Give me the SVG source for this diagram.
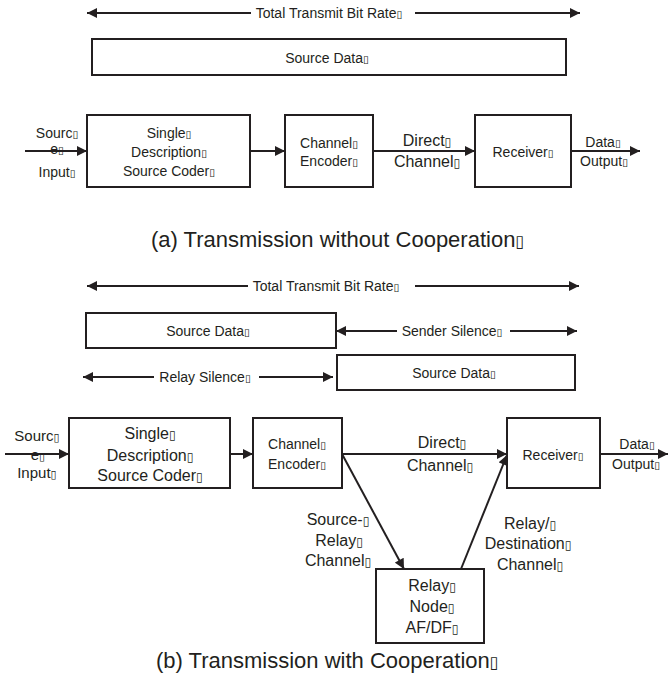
<svg xmlns="http://www.w3.org/2000/svg" width="668" height="693" viewBox="0 0 668 693">
<style>
text{font-family:"Liberation Sans",Arial,sans-serif;fill:#231f20;text-anchor:middle}
.s14{font-size:14px}.s16{font-size:16px}.s15{font-size:15px}
.cap{font-size:22px;text-anchor:start}
.box{fill:#fff;stroke:#231f20;stroke-width:2}
.ln{stroke:#231f20;stroke-width:2;fill:none}
.bx{font-family:"DejaVu Sans",sans-serif;font-size:0.75em}
</style>
<defs>
<marker id="ah" viewBox="0 0 10 10" refX="10" refY="5" markerWidth="12" markerHeight="10" markerUnits="userSpaceOnUse" orient="auto-start-reverse"><path d="M0,0 L10,5 L0,10 z" fill="#231f20"/></marker>
</defs>
<rect width="668" height="693" fill="#fff"/>

<g id="connectors">
<!-- (a) -->
<line class="ln" x1="87" y1="13" x2="251" y2="13" marker-start="url(#ah)"/>
<line class="ln" x1="415" y1="13" x2="580" y2="13" marker-end="url(#ah)"/>
<line class="ln" x1="25" y1="151" x2="87" y2="151" marker-end="url(#ah)"/>
<line class="ln" x1="250" y1="151" x2="285" y2="151" marker-end="url(#ah)"/>
<line class="ln" x1="373" y1="151" x2="475" y2="151" marker-end="url(#ah)"/>
<line class="ln" x1="571" y1="151" x2="640" y2="151" marker-end="url(#ah)"/>
<!-- (b) -->
<line class="ln" x1="87" y1="286" x2="248" y2="286" marker-start="url(#ah)"/>
<line class="ln" x1="415" y1="286" x2="579" y2="286" marker-end="url(#ah)"/>
<line class="ln" x1="336" y1="331" x2="397" y2="331" marker-start="url(#ah)"/>
<line class="ln" x1="510" y1="331" x2="577" y2="331" marker-end="url(#ah)"/>
<line class="ln" x1="83" y1="377" x2="154" y2="377" marker-start="url(#ah)"/>
<line class="ln" x1="259" y1="377" x2="333" y2="377" marker-end="url(#ah)"/>
<line class="ln" x1="5" y1="454" x2="69" y2="454" marker-end="url(#ah)"/>
<line class="ln" x1="230" y1="454" x2="253" y2="454" marker-end="url(#ah)"/>
<line class="ln" x1="342" y1="454" x2="507" y2="454" marker-end="url(#ah)"/>
<line class="ln" x1="600" y1="454" x2="668" y2="454" marker-end="url(#ah)"/>
<line class="ln" x1="342" y1="454" x2="404" y2="569" marker-end="url(#ah)"/>
<line class="ln" x1="461" y1="569" x2="507" y2="455" marker-end="url(#ah)"/>
</g>

<g id="labels">
<text class="s14" x="329" y="18">Total Transmit Bit Rate<tspan class="bx">▯</tspan></text>
<text class="s14" x="57" y="138">Sourc<tspan class="bx">▯</tspan></text>
<text class="s14" x="57" y="154">e<tspan class="bx">▯</tspan></text>
<text class="s14" x="57" y="177">Input<tspan class="bx">▯</tspan></text>
<text class="s16" x="427" y="146">Direct<tspan class="bx">▯</tspan></text>
<text class="s16" x="427" y="167">Channel<tspan class="bx">▯</tspan></text>
<text class="s14" x="603" y="147">Data<tspan class="bx">▯</tspan></text>
<text class="s14" x="604" y="166">Output<tspan class="bx">▯</tspan></text>
<text class="cap" x="151" y="247">(a) Transmission without Cooperation<tspan class="bx">▯</tspan></text>

<text class="s14" x="326" y="291">Total Transmit Bit Rate<tspan class="bx">▯</tspan></text>
<text class="s14" x="452" y="336">Sender Silence<tspan class="bx">▯</tspan></text>
<text class="s14" x="205" y="382">Relay Silence<tspan class="bx">▯</tspan></text>
<text class="s15" x="37" y="441">Sourc<tspan class="bx">▯</tspan></text>
<text class="s15" x="38" y="460">e<tspan class="bx">▯</tspan></text>
<text class="s15" x="37" y="478">Input<tspan class="bx">▯</tspan></text>
<text class="s16" x="442" y="448">Direct<tspan class="bx">▯</tspan></text>
<text class="s16" x="440" y="471">Channel<tspan class="bx">▯</tspan></text>
<text class="s14" x="637" y="449">Data<tspan class="bx">▯</tspan></text>
<text class="s14" x="636" y="469">Output<tspan class="bx">▯</tspan></text>
<text class="s16" x="338" y="525">Source-<tspan class="bx">▯</tspan></text>
<text class="s16" x="339" y="546">Relay<tspan class="bx">▯</tspan></text>
<text class="s16" x="338" y="566">Channel<tspan class="bx">▯</tspan></text>
<text class="s16" x="530" y="529">Relay/<tspan class="bx">▯</tspan></text>
<text class="s16" x="528" y="549">Destination<tspan class="bx">▯</tspan></text>
<text class="s16" x="530" y="570">Channel<tspan class="bx">▯</tspan></text>
<text class="cap" x="156" y="668">(b) Transmission with Cooperation<tspan class="bx">▯</tspan></text>
</g>

<g id="a-source-data">
<rect class="box" x="92" y="39" width="474" height="36"/>
<text class="s14" x="327" y="63">Source Data<tspan class="bx">▯</tspan></text>
</g>
<g id="a-coder">
<rect class="box" x="87" y="115" width="163" height="72"/>
<text class="s14" x="169" y="138">Single<tspan class="bx">▯</tspan></text>
<text class="s14" x="169" y="157">Description<tspan class="bx">▯</tspan></text>
<text class="s14" x="169" y="176">Source Coder<tspan class="bx">▯</tspan></text>
</g>
<g id="a-encoder">
<rect class="box" x="285" y="115" width="88" height="72"/>
<text class="s14" x="329" y="148">Channel<tspan class="bx">▯</tspan></text>
<text class="s14" x="329" y="166">Encoder<tspan class="bx">▯</tspan></text>
</g>
<g id="a-receiver">
<rect class="box" x="475" y="115" width="96" height="72"/>
<text class="s14" x="523" y="157">Receiver<tspan class="bx">▯</tspan></text>
</g>

<g id="b-source-data-1">
<rect class="box" x="86" y="313" width="250" height="35"/>
<text class="s14" x="208" y="336">Source Data<tspan class="bx">▯</tspan></text>
</g>
<g id="b-source-data-2">
<rect class="box" x="337" y="355" width="238" height="35"/>
<text class="s14" x="454" y="378">Source Data<tspan class="bx">▯</tspan></text>
</g>
<g id="b-coder">
<rect class="box" x="69" y="418" width="161" height="70"/>
<text class="s16" x="150" y="439">Single<tspan class="bx">▯</tspan></text>
<text class="s16" x="150" y="461">Description<tspan class="bx">▯</tspan></text>
<text class="s16" x="150" y="481">Source Coder<tspan class="bx">▯</tspan></text>
</g>
<g id="b-encoder">
<rect class="box" x="253" y="418" width="89" height="70"/>
<text class="s14" x="297" y="449">Channel<tspan class="bx">▯</tspan></text>
<text class="s14" x="297" y="469">Encoder<tspan class="bx">▯</tspan></text>
</g>
<g id="b-receiver">
<rect class="box" x="507" y="418" width="93" height="70"/>
<text class="s14" x="553" y="460">Receiver<tspan class="bx">▯</tspan></text>
</g>
<g id="b-relay">
<rect class="box" x="376" y="569" width="108" height="74"/>
<text class="s16" x="432" y="591">Relay<tspan class="bx">▯</tspan></text>
<text class="s16" x="432" y="612">Node<tspan class="bx">▯</tspan></text>
<text class="s16" x="432" y="633">AF/DF<tspan class="bx">▯</tspan></text>
</g>
</svg>
